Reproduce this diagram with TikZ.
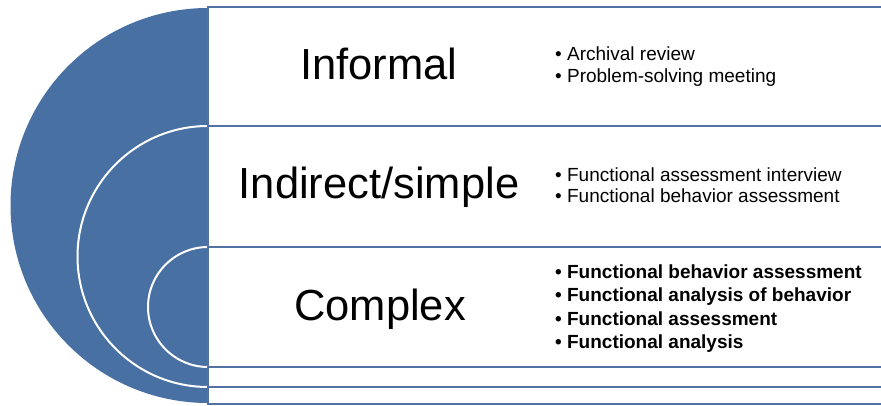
\documentclass[tikz,border=0pt]{standalone}
\usepackage{fontspec}
\setmainfont{Liberation Sans}
\definecolor{nestblue}{RGB}{72,112,162}
\definecolor{edgeblue}{RGB}{82,114,164}
\begin{document}
\begin{tikzpicture}[x=1pt,y=-1pt,
  band/.style={draw=edgeblue,line width=2.5pt,fill=white},
  ring/.style={draw=white,line width=2pt},
  title/.style={font=\fontsize{43.5}{50}\selectfont,inner sep=0pt,anchor=base},
  item/.style={font=\fontsize{19}{23}\selectfont,inner sep=0pt,anchor=base west},
  bolditem/.style={item,font=\fontsize{19}{23}\selectfont\bfseries}]
\useasboundingbox (0,0) rectangle (881,406);
\begin{scope}
  \clip (0,0) rectangle (881,406);
  % nested discs; their right halves are hidden under the bands
  \fill[nestblue] (208,205.5) circle[radius=197.5];
  \draw[ring] (208,256.5) circle[radius=130.5];
  \draw[ring] (208,307) circle[radius=60];
  % nested bands
  \draw[band] (208,7) rectangle (900,404);
  \draw[band] (208,126) rectangle (900,387);
  \draw[band] (208,247) rectangle (900,367);
\end{scope}
% level titles
\node[title] (informal) at (379,80) {Informal};
\node[title] (indirect) at (379,199) {Indirect/simple};
\node[title] (complex) at (380,320) {Complex};
% informal methods
\node[item] (i1) at (555,61) {• Archival review};
\node[item] (i2) at (555,82.5) {• Problem-solving meeting};
% indirect methods
\node[item] (s1) at (555,181.5) {• Functional assessment interview};
\node[item] (s2) at (555,203) {• Functional behavior assessment};
% complex methods
\node[bolditem] (c1) at (555,278) {• Functional behavior assessment};
\node[bolditem] (c2) at (555,301.5) {• Functional analysis of behavior};
\node[bolditem] (c3) at (555,325) {• Functional assessment};
\node[bolditem] (c4) at (555,348) {• Functional analysis};
\end{tikzpicture}
\end{document}
